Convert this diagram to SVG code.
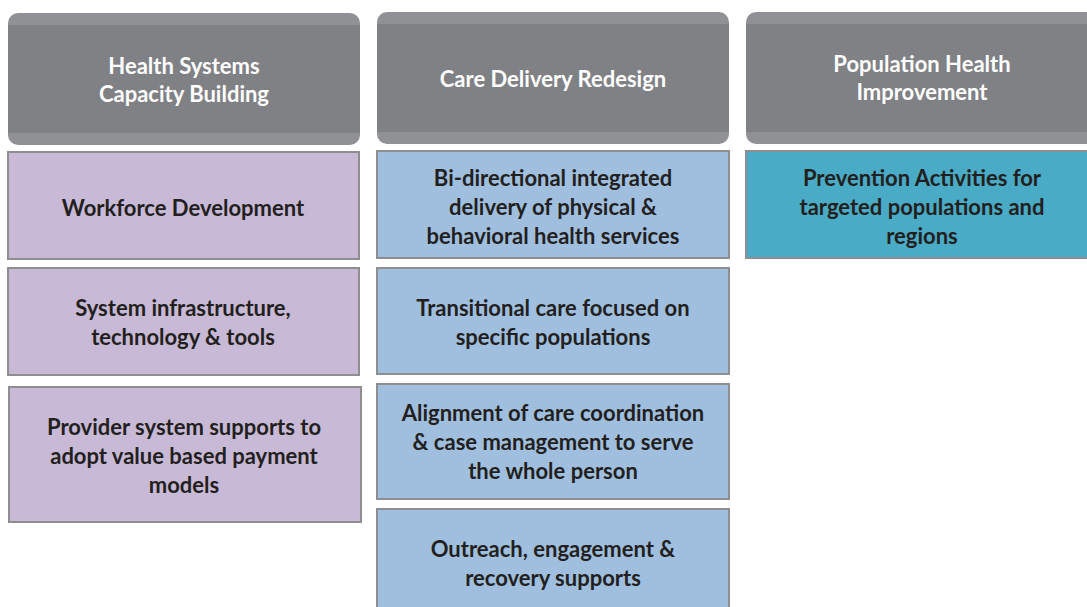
<svg xmlns="http://www.w3.org/2000/svg" width="1087" height="607" viewBox="0 0 1087 607">
<defs>
<style>
.hdr-outer{fill:#909195}
.hdr-inner{fill:#808185}
.hdr-text{fill:#ffffff;font-family:Lato,"Liberation Sans",sans-serif;font-weight:bold;font-size:22px;text-anchor:middle}
.box{stroke:#8e8e90;stroke-width:2}
.purple{fill:#c8bad6}
.blue{fill:#a0bfdf}
.teal{fill:#49abc5}
.txt{fill:#231f20;font-family:Lato,"Liberation Sans",sans-serif;font-weight:bold;font-size:22px;text-anchor:middle}
</style>
<clipPath id="c1"><rect x="8" y="13" width="352" height="132" rx="10"/></clipPath>
<clipPath id="c2"><rect x="377" y="12" width="352" height="132" rx="10"/></clipPath>
<clipPath id="c3"><rect x="746" y="12" width="352" height="132" rx="10"/></clipPath>
</defs>
<rect width="1087" height="607" fill="#ffffff"/>
<g id="header-health-systems">
<rect class="hdr-outer" x="8" y="13" width="352" height="132" rx="10"/>
<rect class="hdr-inner" x="8" y="25" width="352" height="108" clip-path="url(#c1)"/>
<text class="hdr-text" x="184" y="74">Health Systems</text>
<text class="hdr-text" x="184" y="102">Capacity Building</text>
</g>
<g id="header-care-delivery">
<rect class="hdr-outer" x="377" y="12" width="352" height="132" rx="10"/>
<rect class="hdr-inner" x="377" y="24" width="352" height="108" clip-path="url(#c2)"/>
<text class="hdr-text" x="553" y="87">Care Delivery Redesign</text>
</g>
<g id="header-population-health">
<rect class="hdr-outer" x="746" y="12" width="352" height="132" rx="10"/>
<rect class="hdr-inner" x="746" y="24" width="352" height="108" clip-path="url(#c3)"/>
<text class="hdr-text" x="922" y="72">Population Health</text>
<text class="hdr-text" x="922" y="100">Improvement</text>
</g>
<g id="workforce">
<rect class="box purple" x="8" y="152" width="351" height="107"/>
<text class="txt" x="183" y="216">Workforce Development</text>
</g>
<g id="system-infrastructure">
<rect class="box purple" x="8" y="268" width="351" height="107"/>
<text class="txt" x="183" y="316">System infrastructure,</text>
<text class="txt" x="183" y="345">technology &amp; tools</text>
</g>
<g id="provider-supports">
<rect class="box purple" x="9" y="387" width="352" height="135"/>
<text class="txt" x="184" y="435">Provider system supports to</text>
<text class="txt" x="184" y="464">adopt value based payment</text>
<text class="txt" x="184" y="493">models</text>
</g>
<g id="bidirectional">
<rect class="box blue" x="377" y="151" width="352" height="107"/>
<text class="txt" x="553" y="186">Bi-directional integrated</text>
<text class="txt" x="553" y="215">delivery of physical &amp;</text>
<text class="txt" x="553" y="244">behavioral health services</text>
</g>
<g id="transitional-care">
<rect class="box blue" x="377" y="268" width="352" height="106"/>
<text class="txt" x="553" y="316">Transitional care focused on</text>
<text class="txt" x="553" y="345">specific populations</text>
</g>
<g id="alignment">
<rect class="box blue" x="377" y="384" width="352" height="115"/>
<text class="txt" x="553" y="421">Alignment of care coordination</text>
<text class="txt" x="553" y="450">&amp; case management to serve</text>
<text class="txt" x="553" y="479">the whole person</text>
</g>
<g id="outreach">
<rect class="box blue" x="377" y="509" width="352" height="110"/>
<text class="txt" x="553" y="557">Outreach, engagement &amp;</text>
<text class="txt" x="553" y="586">recovery supports</text>
</g>
<g id="prevention">
<rect class="box teal" x="746" y="151" width="352" height="107"/>
<text class="txt" x="922" y="186">Prevention Activities for</text>
<text class="txt" x="922" y="215">targeted populations and</text>
<text class="txt" x="922" y="244">regions</text>
</g>
<g id="connectors"></g>
</svg>
